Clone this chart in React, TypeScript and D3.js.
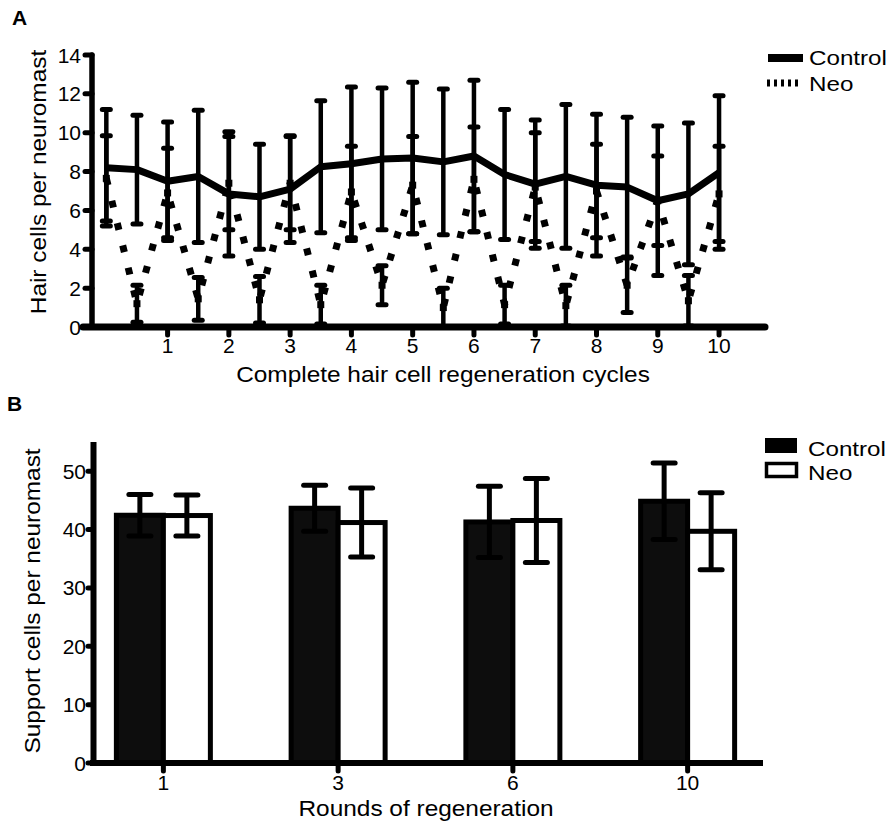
import React from 'react'
import * as d3 from 'd3'

// Panel A: hair cells per neuromast over regeneration cycles
const cycles = [0, 0.5, 1, 1.5, 2, 2.5, 3, 3.5, 4, 4.5, 5, 5.5, 6, 6.5, 7, 7.5, 8, 8.5, 9, 9.5, 10]
const controlMean = [8.2, 8.1, 7.5, 7.75, 6.85, 6.7, 7.1, 8.25, 8.4, 8.65, 8.7, 8.5, 8.8, 7.85, 7.35, 7.75, 7.3, 7.2, 6.5, 6.85, 7.95]
const controlSem = [3.0, 2.8, 3.05, 3.4, 3.2, 2.7, 2.75, 3.4, 3.95, 3.65, 3.9, 3.75, 3.9, 3.35, 3.3, 3.7, 3.65, 3.6, 3.85, 3.65, 3.95]
const neoMean = [7.65, 1.2, 6.9, 1.45, 7.4, 1.4, 7.4, 1.15, 6.95, 2.15, 7.3, 1.0, 7.6, 1.15, 7.2, 1.1, 7.0, 2.15, 6.5, 1.35, 6.85]
const neoSem = [2.2, 0.95, 2.3, 1.1, 2.4, 1.2, 2.4, 1.0, 2.35, 1.0, 2.5, 1.0, 2.7, 1.0, 2.8, 1.05, 2.4, 1.4, 2.3, 1.3, 2.45]
const cycleTicks = [1, 2, 3, 4, 5, 6, 7, 8, 9, 10]

// Panel B: support cells per neuromast
const rounds = ['1', '3', '6', '10']
const supportControl = [42.45, 43.65, 41.3, 44.85]
const supportControlSem = [3.55, 3.95, 6.1, 6.55]
const supportNeo = [42.4, 41.2, 41.55, 39.7]
const supportNeoSem = [3.5, 5.9, 7.2, 6.6]

const FONT = '"Liberation Sans", Arial, sans-serif'
const TICK_SIZE = 21
const TITLE_SIZE = 22.5
const LEGEND_SIZE = 20.5

// error bar with a vertical stem and two caps
function ErrorBar({ x, y1, y2, cap, width }: { x: number, y1: number, y2: number, cap: number, width: number }) {
  return (
    <g stroke="#000" strokeLinecap="round">
      <line x1={x} x2={x} y1={y1} y2={y2} strokeWidth={width} strokeLinecap="butt" />
      <line x1={x - cap / 2} x2={x + cap / 2} y1={y1} y2={y1} strokeWidth={5} />
      <line x1={x - cap / 2} x2={x + cap / 2} y1={y2} y2={y2} strokeWidth={5} />
    </g>
  )
}

// axis title, slightly stretched like the original export
function Title({ x, y, rotate, children }: { x: number, y: number, rotate?: boolean, children: React.ReactNode }) {
  const tr = `translate(${x},${y})${rotate ? ' rotate(-90)' : ''} scale(1.085,1)`
  return <text transform={tr} fontSize={TITLE_SIZE} textAnchor="middle">{children}</text>
}

function LegendText({ x, y, children }: { x: number, y: number, children: React.ReactNode }) {
  return <text transform={`translate(${x},${y}) scale(1.18,1)`} fontSize={LEGEND_SIZE}>{children}</text>
}

function PanelA() {
  const x = d3.scaleLinear().domain([-0.25, 10.75]).range([91, 765])
  const y = d3.scaleLinear().domain([0, 14]).range([327, 55])

  const line = d3.line<number>()
    .x((_, i) => x(cycles[i]))
    .y((d) => y(d))

  return (
    <g fontFamily={FONT}>
      <text x={12} y={25} fontSize={21} fontWeight="bold">A</text>

      {/* error bars */}
      {cycles.map((c, i) => (
        <ErrorBar key={'c' + i} x={x(c)} y1={y(controlMean[i] + controlSem[i])} y2={y(controlMean[i] - controlSem[i])} cap={8} width={4.5} />
      ))}
      {cycles.map((c, i) => (
        <ErrorBar key={'n' + i} x={x(c)} y1={y(neoMean[i] + neoSem[i])} y2={y(Math.max(0, neoMean[i] - neoSem[i]))} cap={8} width={4.5} />
      ))}

      {/* lines */}
      <path d={line(controlMean) || ''} fill="none" stroke="#000" strokeWidth={7} strokeLinejoin="round" />
      <path d={line(neoMean) || ''} fill="none" stroke="#000" strokeWidth={7} strokeDasharray="7 16" />
      {cycles.map((c, i) => (
        <rect key={'m' + i} x={x(c) - 3.5} y={y(neoMean[i]) - 3.5} width={7} height={7} fill="#000" />
      ))}

      {/* axes */}
      <line x1={92} x2={92} y1={y(0)} y2={y(14)} stroke="#000" strokeWidth={5.5} strokeLinecap="round" />
      <line x1={83} x2={765} y1={y(0)} y2={y(0)} stroke="#000" strokeWidth={7} strokeLinecap="round" />
      {y.ticks(7).map((t) => (
        <g key={t}>
          <line x1={85} x2={92} y1={y(t)} y2={y(t)} stroke="#000" strokeWidth={5} strokeLinecap="round" />
          <text x={81} y={y(t)} dy="0.36em" fontSize={TICK_SIZE} textAnchor="end">{t}</text>
        </g>
      ))}
      {cycleTicks.map((t) => (
        <g key={t}>
          <line x1={x(t)} x2={x(t)} y1={y(0)} y2={y(0) + 8} stroke="#000" strokeWidth={5} strokeLinecap="round" />
          <text x={x(t)} y={353} fontSize={TICK_SIZE} textAnchor="middle">{t}</text>
        </g>
      ))}

      <Title x={443} y={382}>Complete hair cell regeneration cycles</Title>
      <Title x={46} y={182} rotate>Hair cells per neuromast</Title>

      {/* legend */}
      <line x1={768} x2={803} y1={58} y2={58} stroke="#000" strokeWidth={8} />
      <line x1={767} x2={800} y1={83} y2={83} stroke="#000" strokeWidth={7} strokeDasharray="3 4" />
      <LegendText x={809} y={65}>Control</LegendText>
      <LegendText x={809} y={91}>Neo</LegendText>
    </g>
  )
}

function PanelB() {
  const x = d3.scaleBand().domain(rounds).range([76, 775])
  const y = d3.scaleLinear().domain([0, 55]).range([763, 442])
  const barW = 47

  return (
    <g fontFamily={FONT}>
      <text x={7} y={411} fontSize={21} fontWeight="bold">B</text>

      {rounds.map((r, i) => {
        const cx = (x(r) || 0) + x.bandwidth() / 2
        return (
          <g key={r}>
            <rect x={cx - barW} y={y(supportControl[i])} width={barW} height={y(0) - y(supportControl[i])} fill="#0d0d0d" stroke="#000" strokeWidth={5} />
            <rect x={cx} y={y(supportNeo[i])} width={barW} height={y(0) - y(supportNeo[i])} fill="#fff" stroke="#000" strokeWidth={5} />
            <ErrorBar x={cx - barW / 2} y1={y(supportControl[i] + supportControlSem[i])} y2={y(supportControl[i] - supportControlSem[i])} cap={22} width={5} />
            <ErrorBar x={cx + barW / 2} y1={y(supportNeo[i] + supportNeoSem[i])} y2={y(supportNeo[i] - supportNeoSem[i])} cap={22} width={5} />
          </g>
        )
      })}

      {/* axes */}
      <line x1={93.5} x2={93.5} y1={y(0)} y2={y(55)} stroke="#000" strokeWidth={6} />
      <line x1={90} x2={763} y1={y(0)} y2={y(0)} stroke="#000" strokeWidth={6} />
      {y.ticks(6).map((t) => (
        <g key={t}>
          <line x1={88} x2={93} y1={y(t)} y2={y(t)} stroke="#000" strokeWidth={5} strokeLinecap="round" />
          <text x={86} y={y(t)} dy="0.36em" fontSize={TICK_SIZE} textAnchor="end">{t}</text>
        </g>
      ))}
      {rounds.map((r) => {
        const cx = (x(r) || 0) + x.bandwidth() / 2
        return (
          <g key={r}>
            <line x1={cx} x2={cx} y1={y(0)} y2={y(0) + 8} stroke="#000" strokeWidth={5} strokeLinecap="round" />
            <text x={cx} y={790} fontSize={TICK_SIZE} textAnchor="middle">{r}</text>
          </g>
        )
      })}

      <Title x={426} y={816}>Rounds of regeneration</Title>
      <Title x={40} y={601} rotate>Support cells per neuromast</Title>

      {/* legend */}
      <rect x={765} y={438} width={32} height={15} fill="#000" />
      <rect x={766.5} y={463.5} width={30} height={13} fill="#fff" stroke="#000" strokeWidth={3.5} />
      <LegendText x={808} y={456}>Control</LegendText>
      <LegendText x={808} y={480}>Neo</LegendText>
    </g>
  )
}

export default function App() {
  return (
    <svg width={891} height={822} style={{ position: 'absolute', left: 0, top: 0, background: '#fff' }}>
      <PanelA />
      <PanelB />
    </svg>
  )
}
